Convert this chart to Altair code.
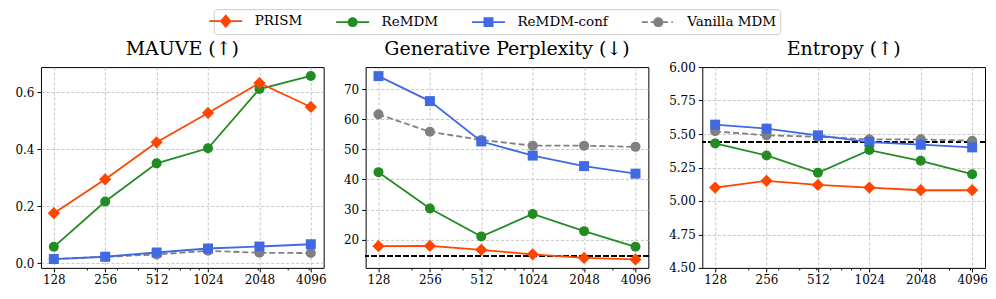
import altair as alt
import pandas as pd

# ---------------- data ----------------
steps = [128, 256, 512, 1024, 2048, 4096]
minor_steps = [200, 300, 400, 500, 600, 700, 800, 900, 2000, 3000, 4000]
series_names = ["PRISM", "ReMDM", "ReMDM-conf", "Vanilla MDM"]
series_colors = ["#FF4500", "#228B22", "#4169E1", "#808080"]

mauve_prism = [0.175, 0.294, 0.424, 0.527, 0.632, 0.548]
mauve_remdm = [0.057, 0.216, 0.350, 0.403, 0.611, 0.657]
mauve_conf = [0.014, 0.022, 0.037, 0.051, 0.058, 0.066]
mauve_vanilla = [0.014, 0.022, 0.030, 0.043, 0.036, 0.035]

ppl_prism = [17.8, 17.9, 16.6, 15.1, 13.9, 13.4]
ppl_remdm = [42.4, 30.3, 21.0, 28.5, 22.8, 17.6]
ppl_conf = [74.3, 66.0, 52.6, 47.9, 44.4, 41.9]
ppl_vanilla = [61.6, 55.8, 53.1, 51.2, 51.2, 50.8]
ppl_reference = 14.6

ent_prism = [5.10, 5.15, 5.12, 5.10, 5.08, 5.08]
ent_remdm = [5.43, 5.34, 5.21, 5.38, 5.30, 5.20]
ent_conf = [5.57, 5.54, 5.49, 5.44, 5.42, 5.40]
ent_vanilla = [5.52, 5.49, 5.48, 5.46, 5.46, 5.45]
ent_reference = 5.44

FONT = "DejaVu Serif"

styles = {
    "PRISM": dict(shape="diamond", size=150, dash=[]),
    "ReMDM": dict(shape="circle", size=100, dash=[]),
    "ReMDM-conf": dict(shape="square", size=100, dash=[]),
    "Vanilla MDM": dict(shape="circle", size=100, dash=[6, 3]),
}
color_of = dict(zip(series_names, series_colors))
draw_order = ["Vanilla MDM", "ReMDM-conf", "ReMDM", "PRISM"]

# legend glyphs: line + marker as filled SVG paths (same winding)
bar = "M-2.06,-0.11H2.06V0.11H-2.06Z"
circ = "M-0.625,0A0.625,0.625,0,1,1,0.625,0A0.625,0.625,0,1,1,-0.625,0Z"
legend_paths = [
    bar + "M0,-0.875L0.75,0L0,0.875L-0.75,0Z",
    bar + circ,
    bar + "M-0.625,-0.625H0.625V0.625H-0.625Z",
    "M-2.06,-0.11H-1.31V0.11H-2.06Z"
    "M-0.94,-0.11H1.19V0.11H-0.94Z"
    "M1.63,-0.11H1.81V0.11H1.63Z" + circ,
]


def make_df(vals):
    rows = []
    for name, v in zip(series_names, vals):
        for s, y in zip(steps, v):
            rows.append({"step": s, "value": y, "series": name})
    return pd.DataFrame(rows)


major_test = "indexof([128,256,512,1024,2048,4096], datum.value) >= 0"

x_enc = alt.X(
    "step:Q",
    scale=alt.Scale(type="log", base=2, domain=[2 ** 6.75, 2 ** 12.25], nice=False, zero=False),
    axis=alt.Axis(
        values=steps + minor_steps,
        labelExpr=f"{major_test} ? format(datum.value, 'd') : ''",
        tickSize={"condition": {"test": major_test, "value": 4}, "value": 2},
        gridOpacity={"condition": {"test": major_test, "value": 1}, "value": 0},
        labelFont=FONT,
        labelFontSize=12,
        labelOverlap=False,
        title=None,
    ),
)


def panel(df, title, ydomain, yvalues, yfmt, ref=None, with_legend=False, title_offset=8):
    y_scale = alt.Scale(domain=ydomain, nice=False, zero=False)
    inner = f"datum.value > {ydomain[0] + 1e-9} && datum.value < {ydomain[1] - 1e-9}"
    y_axis = alt.Axis(
        values=yvalues,
        format=yfmt,
        title=None,
        labelFont=FONT,
        labelFontSize=12,
        labelOverlap=False,
        gridOpacity={"condition": {"test": inner, "value": 1}, "value": 0},
    )
    y_enc = alt.Y("value:Q", scale=y_scale, axis=y_axis)
    base = alt.Chart(df)
    layers = []
    if ref is not None:
        layers.append(
            alt.Chart(df).mark_rule(color="black", strokeDash=[5, 3], strokeWidth=1.5).encode(
                y=alt.YDatum(ref, scale=y_scale, axis=y_axis)
            )
        )
    for name in draw_order:
        st = styles[name]
        sub = base.transform_filter(alt.datum.series == name)
        line_kw = dict(color=color_of[name], strokeWidth=1.8)
        if st["dash"]:
            line_kw["strokeDash"] = st["dash"]
        layers.append(sub.mark_line(**line_kw).encode(x=x_enc, y=y_enc))
        layers.append(
            sub.mark_point(
                shape=st["shape"], size=st["size"], filled=True, opacity=1, color=color_of[name]
            ).encode(x=x_enc, y=y_enc)
        )
    if with_legend:
        leg = alt.Legend(
            title=None,
            orient="none",
            legendX=173,
            legendY=-58,
            direction="horizontal",
            columns=4,
            symbolSize=256,
            symbolOpacity=1,
            labelFont=FONT,
            labelFontSize=13.5,
            labelOffset=20,
            columnPadding=30,
            padding=3,
            strokeColor="#cccccc",
            fillColor="white",
            cornerRadius=3,
        )
        layers.append(
            base.transform_filter("false")
            .mark_point(filled=True, opacity=1)
            .encode(
                x=x_enc,
                y=y_enc,
                color=alt.Color(
                    "series:N", scale=alt.Scale(domain=series_names, range=series_colors), legend=leg
                ),
                shape=alt.Shape(
                    "series:N", scale=alt.Scale(domain=series_names, range=legend_paths), legend=leg
                ),
            )
        )
    return alt.layer(*layers).properties(
        width=283,
        height=201,
        title=alt.TitleParams(
            title, font=FONT, fontSize=19, fontWeight="normal", color="black",
            offset=title_offset, frame="group",
        ),
    )


p1 = panel(
    make_df([mauve_prism, mauve_remdm, mauve_conf, mauve_vanilla]),
    "MAUVE (↑)",
    [-0.017, 0.688],
    [0.0, 0.2, 0.4, 0.6],
    ".1f",
    with_legend=True,
)
p2 = panel(
    make_df([ppl_prism, ppl_remdm, ppl_conf, ppl_vanilla]),
    "Generative Perplexity (↓)",
    [10.6, 77.3],
    [20, 30, 40, 50, 60, 70],
    "d",
    ref=ppl_reference,
)
p3 = panel(
    make_df([ent_prism, ent_remdm, ent_conf, ent_vanilla]),
    "Entropy (↑)",
    [4.5, 6.0],
    [4.5, 4.75, 5.0, 5.25, 5.5, 5.75, 6.0],
    ".2f",
    ref=ent_reference,
    title_offset=2,
)

chart = (
    alt.hconcat(p1, p2, p3, spacing=16)
    .resolve_scale(x="independent", y="independent")
    .properties(padding={"left": 6, "top": 0, "right": 0, "bottom": 0})
    .configure(font=FONT)
    .configure_view(stroke="black", strokeWidth=1)
    .configure_axis(
        labelFont=FONT,
        labelFontSize=12,
        labelColor="black",
        tickColor="black",
        domain=False,
        grid=True,
        gridColor="#b8b8b8",
        gridDash=[3, 2],
        gridWidth=0.8,
        labelPadding=3,
    )
    .configure_legend(labelFont=FONT, labelFontSize=13.5, labelColor="black")
    .configure_axisX(tickSize=4)
    .configure_axisY(tickSize=4)
)

chart.save("out.html", embed_options={"renderer": "svg", "actions": False})
